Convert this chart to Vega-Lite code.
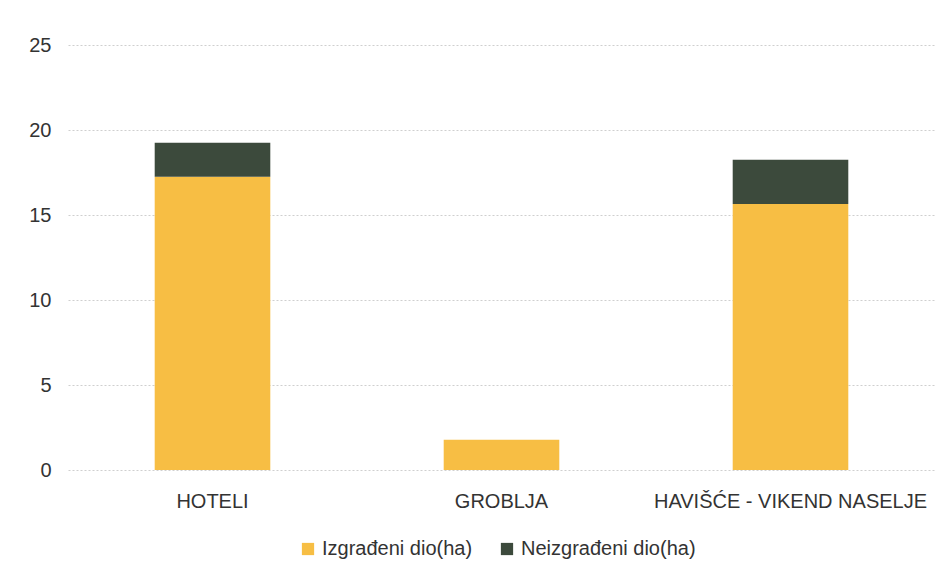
{
  "$schema": "https://vega.github.io/schema/vega-lite/v6.json",
  "autosize": {"type": "none"},
  "width": 867,
  "height": 425,
  "padding": {"left": 68, "top": 45, "right": 15, "bottom": 111},
  "background": "white",
  "config": {
    "font": "Liberation Sans",
    "view": {"stroke": null}
  },
  "data": {
    "values": [
      {"kategorija": "HOTELI", "serija": "Izgrađeni dio(ha)", "red": 1, "vrijednost": 17.25},
      {"kategorija": "HOTELI", "serija": "Neizgrađeni dio(ha)", "red": 2, "vrijednost": 2.0},
      {"kategorija": "GROBLJA", "serija": "Izgrađeni dio(ha)", "red": 1, "vrijednost": 1.78},
      {"kategorija": "GROBLJA", "serija": "Neizgrađeni dio(ha)", "red": 2, "vrijednost": 0},
      {"kategorija": "HAVIŠĆE - VIKEND NASELJE", "serija": "Izgrađeni dio(ha)", "red": 1, "vrijednost": 15.65},
      {"kategorija": "HAVIŠĆE - VIKEND NASELJE", "serija": "Neizgrađeni dio(ha)", "red": 2, "vrijednost": 2.6}
    ]
  },
  "mark": {"type": "bar"},
  "encoding": {
    "x": {
      "field": "kategorija",
      "type": "nominal",
      "sort": ["HOTELI", "GROBLJA", "HAVIŠĆE - VIKEND NASELJE"],
      "scale": {"paddingInner": 0.6, "paddingOuter": 0.3},
      "axis": {
        "title": null,
        "labelAngle": 0,
        "domain": false,
        "ticks": false,
        "labelFontSize": 20,
        "labelColor": "#333333",
        "labelPadding": 21,
        "labelLimit": 0
      }
    },
    "y": {
      "field": "vrijednost",
      "type": "quantitative",
      "stack": "zero",
      "scale": {"domain": [0, 25]},
      "axis": {
        "title": null,
        "values": [0, 5, 10, 15, 20, 25],
        "domain": false,
        "ticks": false,
        "labelFontSize": 20,
        "labelColor": "#333333",
        "labelPadding": 17,
        "grid": true,
        "gridColor": "#cfcfcf",
        "gridDash": [2, 2],
        "gridWidth": 1
      }
    },
    "color": {
      "field": "serija",
      "type": "nominal",
      "scale": {
        "domain": ["Izgrađeni dio(ha)", "Neizgrađeni dio(ha)"],
        "range": ["#F7BE44", "#3C4A3C"]
      },
      "legend": {
        "title": null,
        "orient": "none",
        "legendX": 230,
        "legendY": 494,
        "direction": "horizontal",
        "symbolType": "square",
        "symbolSize": 150,
        "symbolStrokeWidth": 0,
        "labelFontSize": 20,
        "labelColor": "#333333",
        "columnPadding": 24,
        "labelOffset": 4,
        "labelLimit": 0
      }
    },
    "order": {"field": "red", "type": "quantitative"}
  }
}
